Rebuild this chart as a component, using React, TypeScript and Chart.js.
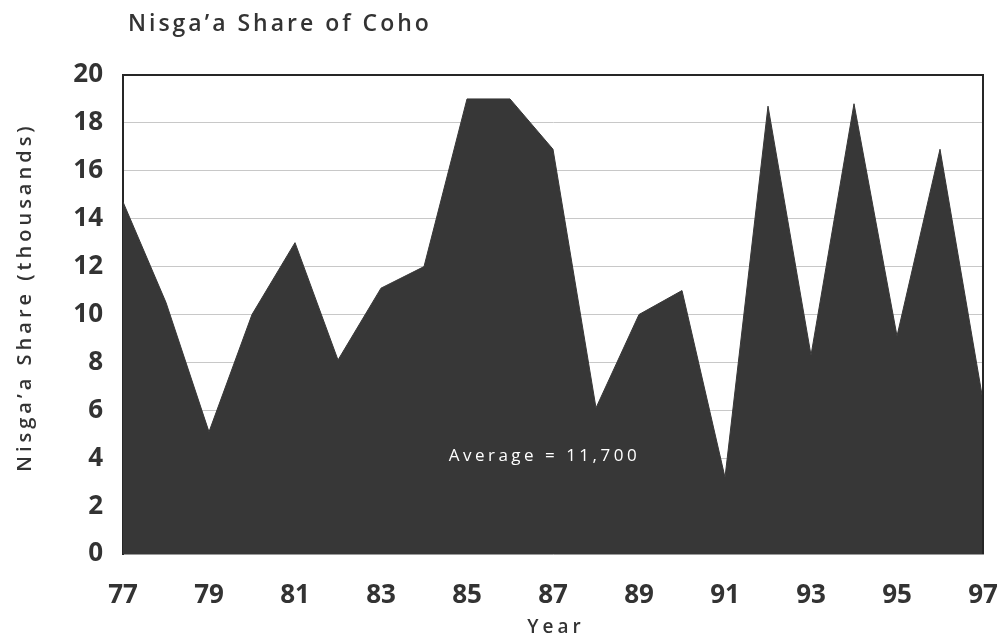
import React, { useEffect, useRef } from "react";
import { Chart, registerables } from "chart.js";

Chart.register(...registerables);

const years = [77, 78, 79, 80, 81, 82, 83, 84, 85, 86, 87, 88, 89, 90, 91, 92, 93, 94, 95, 96, 97];
const share = [14.7, 10.5, 5.1, 10, 13, 8.1, 11.1, 12, 19, 19, 16.9, 6.1, 10, 11, 3.2, 18.7, 8.3, 18.8, 9.1, 16.9, 6.4];
const chartTitle = "Nisga\u2019a Share of Coho";
const yTitle = "Nisga\u2019a Share (thousands)";
const xTitle = "Year";
const averageLabel = "Average = 11,700";
const averageAt = { x: 86.8, y: 4.1 };

const FILL = "#373737";
const INK = "#333333";
const TICK_FONT = '"Open Sans", "DejaVu Sans", sans-serif';
const TEXT_FONT = '"Open Sans", "DejaVu Sans", sans-serif';

const decorPlugin = {
  id: "decor",
  afterDraw(chart: any) {
    const { ctx, chartArea: a, scales } = chart;
    ctx.save();
    // top & right frame
    ctx.strokeStyle = "#262626";
    ctx.lineWidth = 2;
    ctx.beginPath();
    ctx.moveTo(a.left, a.top);
    ctx.lineTo(a.right, a.top);
    ctx.lineTo(a.right, a.bottom);
    ctx.stroke();

    // chart title
    ctx.fillStyle = INK;
    (ctx as any).letterSpacing = "3px";
    ctx.font = `600 23px ${TEXT_FONT}`;
    ctx.textAlign = "left";
    ctx.textBaseline = "alphabetic";
    ctx.fillText(chartTitle, 128, 31);

    // y-axis title
    ctx.save();
    ctx.translate(25, 297);
    ctx.rotate(-Math.PI / 2);
    (ctx as any).letterSpacing = "4px";
    ctx.font = `600 20px ${TEXT_FONT}`;
    ctx.textAlign = "center";
    ctx.textBaseline = "middle";
    ctx.fillText(yTitle, 0, 0);
    ctx.restore();

    // x-axis title
    (ctx as any).letterSpacing = "4px";
    ctx.font = `600 19px ${TEXT_FONT}`;
    ctx.textAlign = "center";
    ctx.textBaseline = "middle";
    ctx.fillText(xTitle, 556, 628);

    // average label
    (ctx as any).letterSpacing = "3.5px";
    ctx.fillStyle = "#ffffff";
    ctx.font = `400 17px ${TEXT_FONT}`;
    ctx.fillText(averageLabel, scales.x.getPixelForValue(averageAt.x), scales.y.getPixelForValue(averageAt.y));
    ctx.restore();
  },
};

export default function App() {
  const ref = useRef<HTMLCanvasElement | null>(null);

  useEffect(() => {
    if (!ref.current) return;
    const chart = new Chart(ref.current, {
      type: "line",
      data: {
        datasets: [
          {
            data: years.map((y, i) => ({ x: y, y: share[i] })),
            fill: "origin",
            backgroundColor: FILL,
            borderColor: FILL,
            borderWidth: 1,
            pointRadius: 0,
            tension: 0,
          },
        ],
      },
      options: {
        animation: false,
        responsive: false,
        maintainAspectRatio: false,
        layout: { padding: { top: 75, right: 18, left: 0, bottom: 0 } },
        plugins: { legend: { display: false }, tooltip: { enabled: false }, title: { display: false } },
        scales: {
          x: {
            type: "linear",
            min: 77,
            max: 97,
            afterFit: (s: any) => {
              s.height = 86;
              s.paddingLeft = 0;
              s.paddingRight = 0;
            },
            ticks: {
              stepSize: 2,
              color: INK,
              padding: 26,
              maxRotation: 0,
              autoSkip: false,
              font: { family: TICK_FONT, weight: "bold", size: 26 },
              callback: (v: any) => String(v),
            },
            grid: { display: false, drawTicks: false },
            border: { display: true, color: "#9a9a9a", width: 1 },
          },
          y: {
            min: 0,
            max: 20,
            afterFit: (s: any) => {
              s.width = 123;
              s.paddingTop = 0;
              s.paddingBottom = 0;
            },
            ticks: {
              stepSize: 2,
              color: INK,
              padding: 20,
              font: { family: TICK_FONT, weight: "bold", size: 26 },
            },
            grid: { color: "#c8c8c8", lineWidth: 1, drawTicks: false },
            border: { display: true, color: "#262626", width: 2 },
          },
        },
      },
      plugins: [decorPlugin],
    });
    return () => chart.destroy();
  }, []);

  return (
    <div style={{ position: "fixed", left: 0, top: 0, width: 1001, height: 640, background: "#fff" }}>
      <canvas ref={ref} width={1001} height={640} style={{ width: 1001, height: 640, display: "block" }} />
    </div>
  );
}
